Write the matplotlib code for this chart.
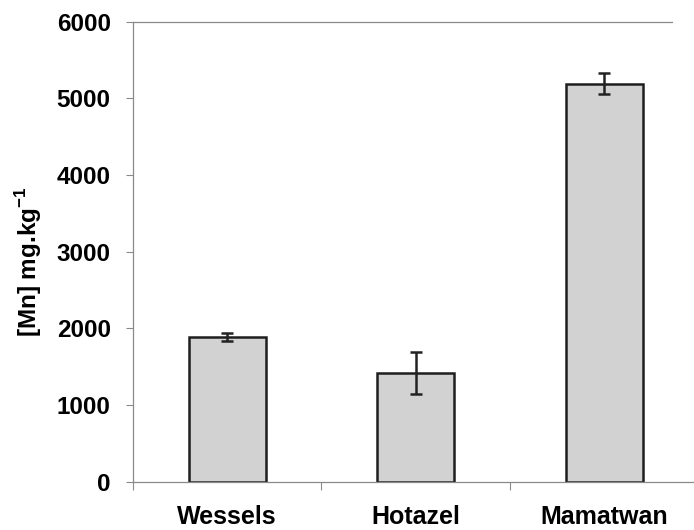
import matplotlib
matplotlib.use("Agg")
import matplotlib.pyplot as plt

plt.rcParams['font.family'] = ['Liberation Sans', 'DejaVu Sans']
plt.rcParams['font.weight'] = 'bold'
plt.rcParams['mathtext.fontset'] = 'custom'
plt.rcParams['mathtext.rm'] = 'Liberation Sans:bold'
plt.rcParams['mathtext.bf'] = 'Liberation Sans:bold'

# manganese concentration per site (mean and error)
sites = ["Wessels", "Hotazel", "Mamatwan"]
mn_mean = [1890, 1420, 5190]
mn_err = [55, 270, 140]
y_ticks = [0, 1000, 2000, 3000, 4000, 5000, 6000]

spine_col = '#8a8a8a'

fig = plt.figure(figsize=(6.94, 5.30), dpi=100)
ax = fig.add_axes([0.1915, 0.0911, 0.8151, 0.8681])

x = list(range(len(sites)))
ax.bar(x, mn_mean, width=0.41, color='#d2d2d2', edgecolor='#1e1e1e',
       linewidth=1.8, zorder=2)
ax.errorbar(x, mn_mean, yerr=mn_err, fmt='none', ecolor='#222222',
            elinewidth=1.8, capsize=4.6, capthick=1.8, zorder=3)

ax.set_xlim(-0.5, 2.5)
ax.set_ylim(0, 6000)
ax.set_yticks(y_ticks)
ax.set_yticklabels([str(v) for v in y_ticks], fontsize=17.5, fontweight='bold')

# category labels at bar centres, tick marks between categories
ax.set_xticks(x)
ax.set_xticklabels(sites, fontsize=18, fontweight='bold')
ax.set_xticks([-0.5, 0.5, 1.5], minor=True)
ax.tick_params(axis='x', which='major', length=0, pad=16.5)
ax.tick_params(axis='x', which='minor', length=6, width=0.8, color=spine_col,
               direction='out')
ax.tick_params(axis='y', length=5, width=0.8, color=spine_col, pad=11,
               direction='out')

for side in ['left', 'bottom', 'top']:
    ax.spines[side].set_color(spine_col)
    ax.spines[side].set_linewidth(0.9)
ax.spines['right'].set_visible(False)
ax.spines['top'].set_bounds(-0.5, 2.36)

fig.text(29 / 694, 1 - 262 / 530, r'[Mn] mg.kg$^{-1}$', rotation=90,
         ha='center', va='center', fontsize=17.5, fontweight='bold')

fig.savefig('out.png', dpi=100)
